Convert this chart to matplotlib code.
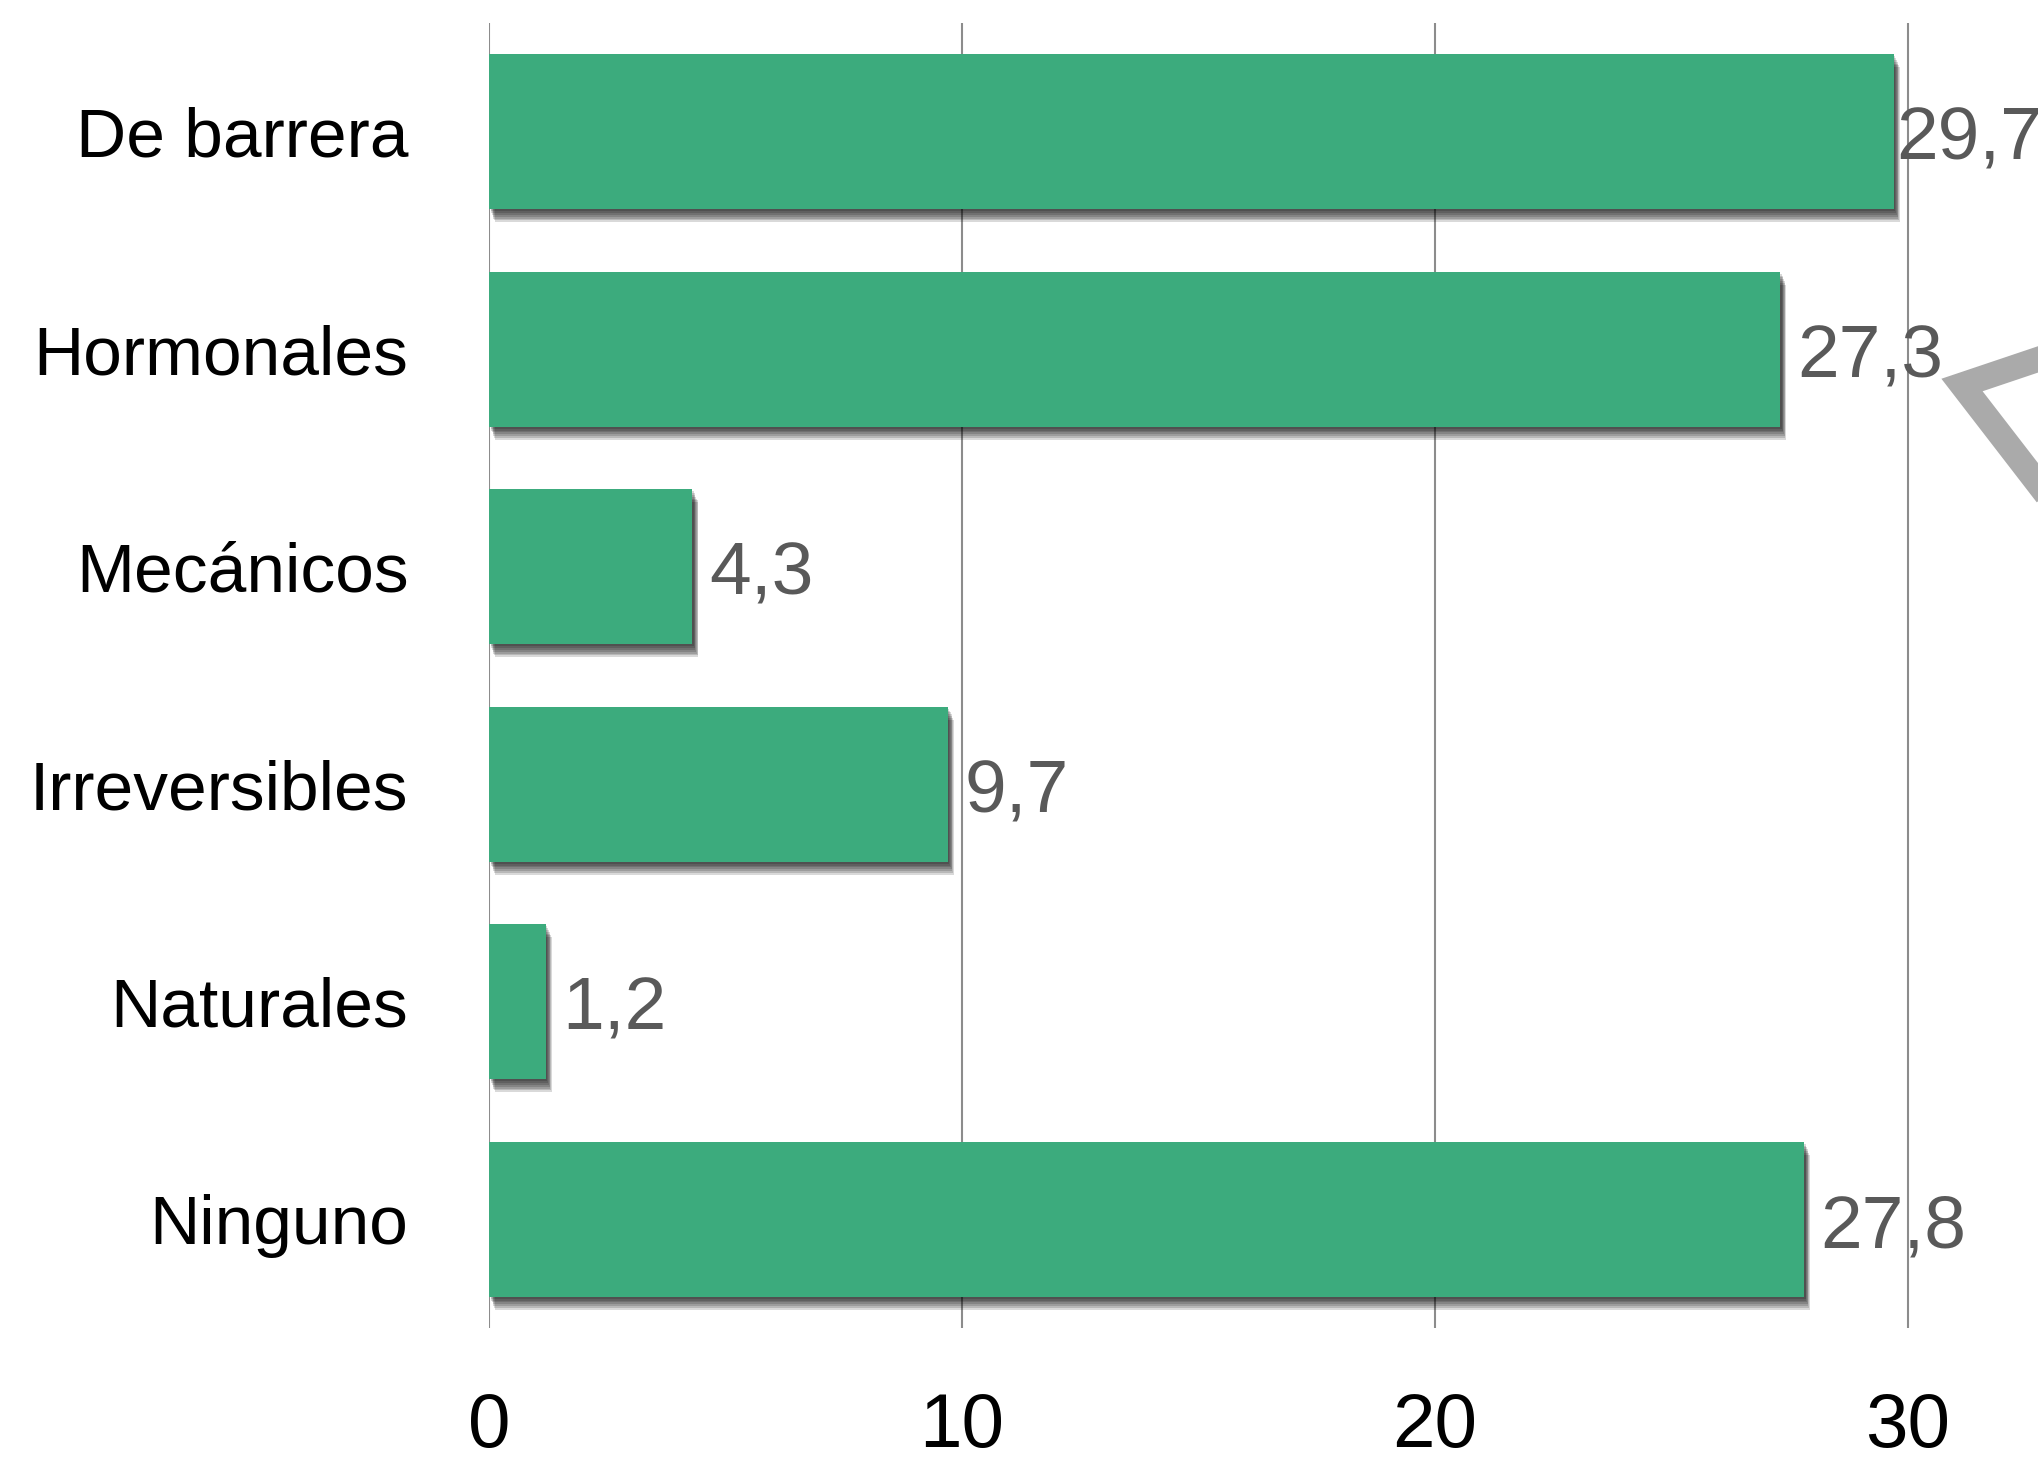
import matplotlib
matplotlib.use("Agg")
import matplotlib.pyplot as plt
import matplotlib.patheffects as pe
from matplotlib.lines import Line2D

categorias = ["De barrera", "Hormonales", "Mecánicos", "Irreversibles", "Naturales", "Ninguno"]
valores = [29.7, 27.3, 4.3, 9.7, 1.2, 27.8]
ticks_x = [0, 10, 20, 30]

plt.rcParams['font.family'] = ['Liberation Sans', 'DejaVu Sans']

W, H = 2038, 1461
fig = plt.figure(figsize=(W / 100, H / 100), dpi=100)
ax = fig.add_axes([489 / W, 1 - 1328 / H, 1 - 489 / W, (1328 - 23) / H])

verde = "#3cab7d"
y = range(len(categorias))

# grid first so bars sit on top
for t in ticks_x:
    ax.axvline(t, color="#8c8c8c", lw=1.5, zorder=0)

# soft drop shadow, a stack of offset copies
sombras = [pe.SimplePatchShadow(offset=(1.2 + 0.5 * i, -1.5 - 1.3 * i), shadow_rgbFace="k", alpha=0.15)
           for i in range(7)]
barras = ax.barh(y, valores, height=0.713, color=verde, zorder=2)
for b in barras:
    b.set_path_effects(sombras + [pe.Normal()])

# the first label sits right on the bar end in the original
for i, v in enumerate(valores):
    txt = f"{v:.1f}".replace(".", ",")
    off = 2 if i == 0 else 12
    ax.annotate(txt, (v, i), xytext=(off, -20), textcoords="offset points",
                va="baseline", ha="left", fontsize=54, color="#595959", zorder=3,
                annotation_clip=False)

ax.set_xlim(0, (W - 489) / 47.3)
ax.set_ylim(len(categorias) - 0.5, -0.5)
ax.set_xticks(ticks_x)
ax.set_yticks(list(y))
ax.set_yticklabels(categorias)
ax.tick_params(axis="y", length=0, pad=58, labelsize=50, labelcolor="black")
ax.tick_params(axis="x", length=0, pad=46, labelsize=55, labelcolor="black")
for s in ax.spines.values():
    s.set_visible(False)

# gray bracket stroke cut off at the right edge
px = [2060, 1962, 2060]
py = [352, 385, 512]
fig.add_artist(Line2D([p / W for p in px], [1 - p / H for p in py], color="#aaaaaa",
                      lw=18, solid_joinstyle="miter", transform=fig.transFigure))

fig.savefig("out.png", dpi=100)
